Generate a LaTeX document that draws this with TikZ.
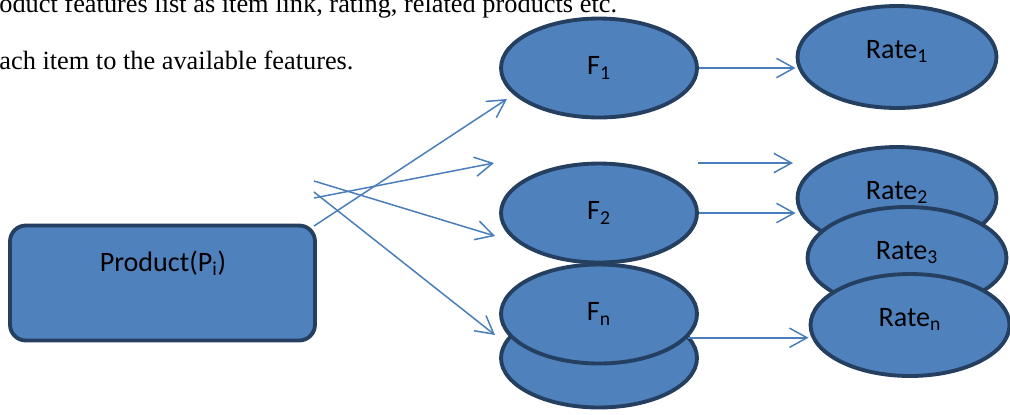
\documentclass[tikz,border=0pt]{standalone}
\usepackage{fontspec}
\setmainfont{Liberation Serif}
\newfontfamily\calib{Carlito}
\usetikzlibrary{arrows.meta,shapes.geometric}
\definecolor{shapefill}{HTML}{4F81BD}
\definecolor{shapeline}{HTML}{243F60}
\definecolor{linkblue}{HTML}{4A7EBB}
\tikzset{
  feature/.style={
    ellipse,
    draw=shapeline,
    fill=shapefill,
    line width=2.2pt,
    minimum width=3.92cm,
    minimum height=1.98cm,
    inner sep=0pt,
    font=\calib\fontsize{16}{19}\selectfont
  },
  rate/.style={feature, minimum width=3.98cm, minimum height=2.04cm, text depth=9pt},
  itembox/.style={
    draw=shapeline,
    fill=shapefill,
    line width=2.2pt,
    rounded corners=9pt,
    minimum width=6.1cm,
    minimum height=2.3cm
  },
  link/.style={draw=linkblue, line width=0.85pt, -{Straight Barb[length=10pt,width=11pt,line width=0.85pt]}},
  bodytext/.style={anchor=base west, inner sep=0pt, font=\fontsize{15}{17}\selectfont}
}
\newcommand{\sub}[1]{\textsubscript{#1}}

\begin{document}
\begin{tikzpicture}[x=0.02cm, y=-0.02cm]
  \useasboundingbox (0,0) rectangle (1010,414);
  \node[bodytext] (line1) at (-1,12) {oduct features list as item link, rating, related products etc.};
  \node[bodytext] (line2) at (-1,69) {ach item to the available features.};

  \node[itembox] (prod) at (162.5,283) {};
  \node[font=\calib\fontsize{16}{19}\selectfont] (plabel) at (163,263) {Product(P\sub{i})};

  \node[feature] (f1) at (599,68) {F\sub{1}};
  \node[rate] (r1) at (897,57) {Rate\sub{1}};
  \node[rate] (r2) at (897,198) {Rate\sub{2}};
  \node[rate] (r3) at (907,258) {Rate\sub{3}};
  \node[rate] (rn) at (910,325) {Rate\sub{n}};
  \node[feature] (f2) at (599,213) {F\sub{2}};
  \node[feature] (fbase) at (599,358) {};
  \node[feature] (fn) at (599,314) {F\sub{n}};

  \coordinate (pa) at (314,226);
  \coordinate (pb) at (314,198);
  \coordinate (pc) at (314,181);
  \coordinate (pd) at (314,192);
  \coordinate (ta) at (507,99);
  \coordinate (tb) at (494,163);
  \coordinate (tc) at (495,236);
  \coordinate (td) at (495,335);
  \coordinate (ga) at (698,163);
  \coordinate (gb) at (793,163);

  \draw[link] (pa) -- (ta);
  \draw[link] (pb) -- (tb);
  \draw[link] (pc) -- (tc);
  \draw[link] (pd) -- (td);
  \draw[link] (f1.east) -- (f1.east -| r1.west);
  \draw[link] (ga) -- (gb);
  \draw[link] (f2.east) -- (f2.east -| r2.west);
  \draw[link] (fn.345) -- (fn.345 -| rn.west);
\end{tikzpicture}
\end{document}
